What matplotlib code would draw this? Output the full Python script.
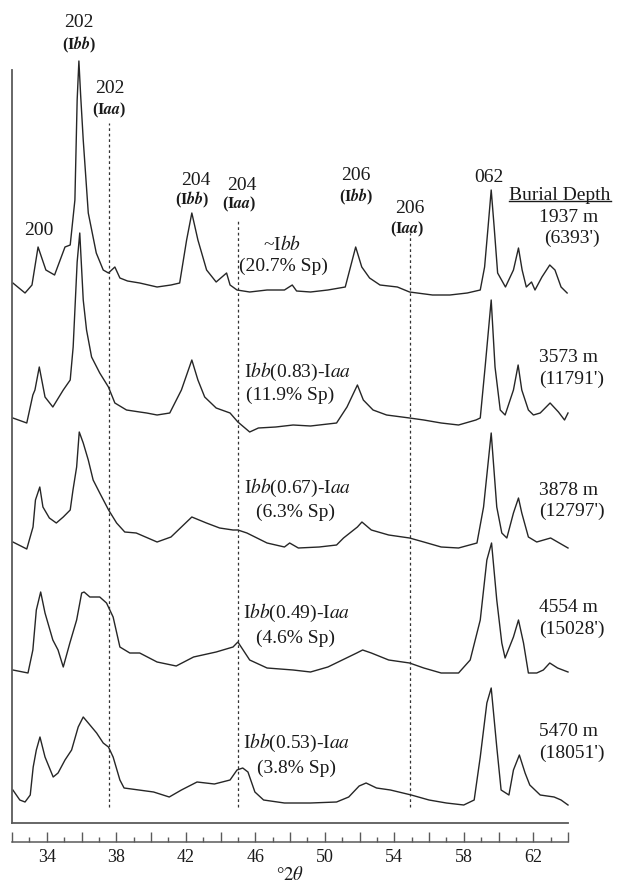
import numpy as np
import matplotlib.pyplot as plt
from matplotlib.lines import Line2D

plt.rcParams['font.family'] = ['Liberation Serif', 'DejaVu Serif']
plt.rcParams['mathtext.fontset'] = 'stix'

# burial depth of each sample, top to bottom
depths = ["1937 m", "3573 m", "3878 m", "4554 m", "5470 m"]
depths_ft = ["(6393')", "(11791')", "(12797')", "(15028')", "(18051')"]
phases = ["~I$bb$", "I$bb$(0.83)-I$aa$", "I$bb$(0.67)-I$aa$",
          "I$bb$(0.49)-I$aa$", "I$bb$(0.53)-I$aa$"]
sp = ["(20.7% Sp)", "(11.9% Sp)", "(6.3% Sp)", "(4.6% Sp)", "(3.8% Sp)"]
offsets = [528, 391, 274, 148, 18]

# patterns: (2theta, intensity above trace floor)
t1 = [32.05, 32.75, 33.15, 33.5, 33.95, 34.45, 35.05, 35.35, 35.62, 35.75, 35.85, 35.95,
      36.1, 36.39, 36.85, 37.25, 37.55, 37.92, 38.21, 38.65, 39.35, 40.35, 41.15, 41.65,
      42.05, 42.35, 42.7, 43.2, 43.75, 44.35, 44.55, 44.95, 45.68, 46.68, 47.68, 48.13,
      48.38, 49.18, 50.18, 51.18, 51.48, 51.78, 52.13, 52.58, 53.18, 54.18, 54.88, 56.2,
      57.2, 58.2, 58.95, 59.2, 59.4, 59.58, 59.75, 59.95, 60.4, 60.86, 61.15, 61.36, 61.6,
      61.9, 62.1, 62.5, 62.95, 63.25, 63.6, 63.95]
i1 = [12, 2, 10, 48, 25, 20, 48, 50, 95, 195, 234, 200,
      155, 82, 42, 25, 22, 28, 17, 14, 12, 8, 10, 12,
      55, 82, 55, 25, 13, 22, 10, 5, 3, 5, 5, 10,
      4, 3, 5, 8, 28, 48, 28, 17, 10, 8, 3, 0,
      0, 2, 5, 28, 68, 105, 68, 22, 8, 25, 47, 25, 8,
      13, 5, 18, 30, 25, 8, 2]

t2 = [32.05, 32.85, 33.2, 33.32, 33.57, 33.9, 34.35, 34.95, 35.35, 35.52, 35.75, 35.9,
      36.1, 36.29, 36.58, 37.05, 37.55, 37.92, 38.59, 39.35, 39.75, 40.35, 41.08, 41.75,
      42.35, 42.7, 43.09, 43.75, 44.55, 45.0, 45.68, 46.18, 47.18, 48.18, 49.18, 50.18,
      50.68, 51.28, 51.88, 52.22, 52.78, 53.56, 54.88, 55.7, 56.7, 57.7, 58.7, 58.95,
      59.23, 59.58, 59.8, 60.1, 60.38, 60.86, 61.13, 61.34, 61.72, 62.01, 62.4, 62.97,
      63.45, 63.8, 64.0]
i2 = [14, 9, 37, 42, 65, 35, 25, 42, 52, 85, 170, 199,
      132, 102, 75, 59, 45, 29, 22, 20, 19, 17, 19, 42,
      72, 52, 35, 24, 19, 10, 0, 4, 5, 7, 6, 8,
      9, 25, 47, 32, 22, 17, 14, 12, 9, 7, 12, 14,
      65, 132, 65, 22, 17, 42, 67, 42, 22, 17, 19, 29,
      20, 12, 19]

t3 = [32.05, 32.85, 33.21, 33.35, 33.6, 33.78, 34.15, 34.55, 34.95, 35.35, 35.51, 35.72,
      35.87, 36.1, 36.39, 36.67, 37.05, 37.56, 38.02, 38.49, 39.15, 40.35, 41.15, 41.75,
      42.35, 43.19, 43.95, 44.72, 45.0, 45.52, 46.68, 47.68, 47.98, 48.48, 49.68, 50.68,
      51.08, 51.88, 52.14, 52.68, 53.68, 54.88, 55.7, 56.7, 57.7, 58.76, 59.14, 59.58,
      59.9, 60.19, 60.48, 60.86, 61.15, 61.34, 61.72, 62.2, 63.0, 63.4, 64.0]
i3 = [7, 0, 22, 49, 62, 42, 31, 26, 32, 39, 59, 82,
      117, 106, 89, 69, 56, 39, 26, 17, 16, 7, 12, 22,
      32, 26, 21, 19, 19, 16, 6, 2, 6, 1, 2, 4,
      11, 22, 27, 19, 14, 11, 7, 2, 1, 6, 42, 116,
      42, 16, 11, 36, 51, 36, 12, 7, 11, 7, 1]

t4 = [32.05, 32.92, 33.2, 33.4, 33.65, 33.9, 34.35, 34.65, 34.95, 35.33, 35.72, 36.01,
      36.15, 36.48, 37.05, 37.44, 37.82, 38.21, 38.78, 39.35, 40.35, 41.45, 42.45, 43.75,
      44.72, 45.0, 45.68, 46.68, 48.18, 49.18, 50.18, 51.84, 52.18, 52.68, 53.68, 54.88,
      55.7, 56.7, 57.7, 58.37, 58.95, 59.33, 59.6, 59.9, 60.19, 60.38, 60.86, 61.15,
      61.44, 61.72, 62.2, 62.58, 62.95, 63.4, 64.0]
i4 = [5, 2, 25, 65, 83, 62, 35, 25, 8, 32, 55, 82,
      83, 78, 78, 72, 58, 28, 22, 22, 13, 9, 18, 23,
      28, 33, 15, 7, 5, 3, 8, 22, 25, 22, 15, 12,
      7, 2, 2, 15, 55, 115, 132, 75, 32, 17, 38, 55,
      32, 2, 2, 5, 12, 7, 3]

t5 = [32.05, 32.45, 32.75, 33.05, 33.22, 33.4, 33.61, 33.9, 34.37, 34.65, 35.05, 35.43,
      35.81, 36.1, 36.39, 36.87, 37.25, 37.55, 37.82, 38.21, 38.45, 40.15, 41.05, 41.75,
      42.65, 43.65, 44.55, 44.95, 45.28, 45.58, 45.98, 46.48, 47.68, 49.18, 50.68, 51.38,
      51.98, 52.38, 52.98, 53.78, 54.98, 56.0, 57.0, 58.0, 58.6, 58.95, 59.33, 59.58,
      59.9, 60.15, 60.6, 60.86, 61.2, 61.53, 61.8, 62.4, 63.2, 63.6, 64.0]
i5 = [15, 5, 3, 10, 38, 55, 68, 48, 28, 32, 45, 55,
      78, 88, 82, 72, 62, 58, 48, 25, 17, 13, 8, 15,
      23, 21, 25, 35, 37, 33, 13, 5, 2, 2, 3, 8,
      19, 22, 17, 15, 10, 5, 2, 0, 5, 48, 102, 117,
      58, 15, 10, 35, 50, 32, 20, 10, 8, 5, 0]

two_theta = [t1, t2, t3, t4, t5]
counts = [i1, i2, i3, i4, i5]

# Iaa reflection positions (dashed markers) and their top ends
iaa_pos = [37.57, 45.0, 54.9]
iaa_top = [700, 603, 590]

peak_labels = [("202", 35.85, 801, 14, "normal"),
               ("(I$\\mathbfit{bb}$)", 35.85, 778, 11.5, "bold"),
               ("202", 37.64, 735, 14, "normal"),
               ("(I$\\mathbfit{aa}$)", 37.58, 713, 11.5, "bold"),
               ("200", 33.55, 593, 14, "normal"),
               ("204", 42.59, 643, 14, "normal"),
               ("(I$\\mathbfit{bb}$)", 42.36, 623, 11.5, "bold"),
               ("204", 45.24, 638, 14, "normal"),
               ("(I$\\mathbfit{aa}$)", 45.07, 619, 11.5, "bold"),
               ("206", 51.78, 648, 14, "normal"),
               ("(I$\\mathbfit{bb}$)", 51.78, 626, 11.5, "bold"),
               ("206", 54.9, 615, 14, "normal"),
               ("(I$\\mathbfit{aa}$)", 54.73, 594, 11.5, "bold"),
               ("062", 59.45, 646, 14, "normal")]

phase_xy = [(47.54, 579), (48.46, 451), (48.46, 335), (48.4, 210), (48.4, 80)]
sp_xy = [(47.6, 557), (48.0, 428), (48.29, 311), (48.29, 185), (48.4, 55)]
depth_y = [606, 465, 333, 215, 91]

W, H = 617, 885
fig = plt.figure(figsize=(W / 100, H / 100), dpi=100)
ax = fig.add_axes([12 / W, (H - 823) / H, 556 / W, 823 / H])
ax.set_xlim(32, 64)
ax.set_ylim(0, 823)
ax.patch.set_visible(False)
for s in ['top', 'right']:
    ax.spines[s].set_visible(False)
ax.spines['left'].set_bounds(0, 753)
for s in ['left', 'bottom']:
    ax.spines[s].set_color('#5a5a5a')
    ax.spines[s].set_linewidth(1.3)
ax.set_xticks([])
ax.set_yticks([])

lc = '#262626'
for tt, cc, off in zip(two_theta, counts, offsets):
    ax.plot(tt, np.array(cc) + off, color=lc, lw=1.0, clip_on=False)

ax.vlines(iaa_pos, 16, iaa_top, colors='#333333', linestyles=(0, (2.2, 2.2)), lw=0.9)

tc = '#1a1a1a'
for txt, x, y, fs, fw in peak_labels:
    ax.text(x, y, txt, fontsize=fs, fontweight=fw, ha='center', va='center', color=tc)

for k in range(5):
    ax.text(phase_xy[k][0], phase_xy[k][1], phases[k], fontsize=14, ha='center',
            va='center', color=tc)
    ax.text(sp_xy[k][0], sp_xy[k][1], sp[k], fontsize=14, ha='center', va='center', color=tc)
    ax.text(64.05, depth_y[k], depths[k], fontsize=14, ha='center', va='center', color=tc)
    ax.text(64.2, depth_y[k] - 21, depths_ft[k], fontsize=14, ha='center', va='center',
            color=tc)

bd = ax.text(63.54, 628, "Burial Depth", fontsize=14, ha='center', va='center', color=tc)

# separate scale ruler below the plot
rax = fig.add_axes([12 / W, (H - 842) / H, 556 / W, 0.001])
rax.set_xlim(32, 64)
rax.patch.set_visible(False)
for s in ['top', 'left', 'right']:
    rax.spines[s].set_visible(False)
rax.spines['bottom'].set_color('#5a5a5a')
rax.spines['bottom'].set_linewidth(1.1)
rax.set_yticks([])
major = list(range(32, 65, 2))
rax.set_xticks(major)
rax.set_xticklabels([str(m) if (m - 34) % 4 == 0 else '' for m in major])
rax.set_xticks(list(range(33, 64, 2)), minor=True)
rax.tick_params(axis='x', which='major', direction='in', length=7, width=1.0,
                color='#5a5a5a', labelsize=13, pad=5, labelcolor=tc)
rax.tick_params(axis='x', which='minor', direction='in', length=3.5, width=1.0,
                color='#5a5a5a')
rax.set_xlabel('°$2\\theta$', fontsize=13.5, labelpad=0, color=tc)

fig.canvas.draw()
bb = bd.get_window_extent()
inv = fig.transFigure.inverted()
(x0, y0), (x1, _) = inv.transform([(bb.x0, bb.y0 + 3), (bb.x1, bb.y0 + 3)])
fig.add_artist(Line2D([x0, x1], [y0, y0], color=tc, lw=1.0, transform=fig.transFigure))

fig.savefig('out.png', dpi=100, facecolor='white')
